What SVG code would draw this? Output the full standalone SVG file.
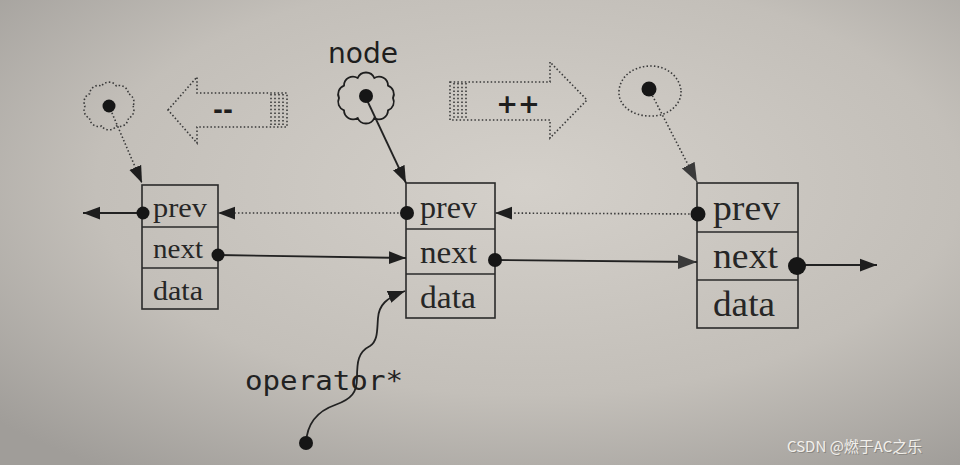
<svg xmlns="http://www.w3.org/2000/svg" width="960" height="465" viewBox="0 0 960 465">
<defs>
<radialGradient id="bg" cx="0.55" cy="0.4" r="0.75">
<stop offset="0" stop-color="#d4d0ca"/>
<stop offset="0.6" stop-color="#c3bfb9"/>
<stop offset="1" stop-color="#a09d99"/>
</radialGradient>
<marker id="ah" viewBox="0 0 16 12" refX="16" refY="6" markerWidth="17" markerHeight="14" markerUnits="userSpaceOnUse" orient="auto">
<path d="M0,0 L16,6 L0,12 z" fill="#1e1e1e"/>
</marker>
<marker id="ahg" viewBox="0 0 16 12" refX="16" refY="6" markerWidth="19" markerHeight="15" markerUnits="userSpaceOnUse" orient="auto">
<path d="M0,0 L16,6 L0,12 z" fill="#3a3a3a"/>
</marker>
</defs>
<style>
.box{fill:none;stroke:#2a2a2a;stroke-width:1.6}
.fld{font-family:"Liberation Serif","Times New Roman",serif;fill:#262626}
.solid{fill:none;stroke:#222;stroke-width:1.8}
.dot{fill:none;stroke:#3a3a3a;stroke-width:1.6;stroke-dasharray:1.5 2.2}
.pin{fill:#161616}
.sans{font-family:"DejaVu Sans","Liberation Sans",sans-serif;fill:#1e1e1e}
.mono{font-family:"DejaVu Sans Mono","Liberation Mono",monospace;fill:#222}
</style>
<rect width="960" height="465" fill="url(#bg)"/>

<g id="cloud-left">
<path class="dot" d="M133,106 A9,9 0 0 1 128.4,118.3 A9,9 0 0 1 116.4,126 A9,9 0 0 1 101.6,126 A9,9 0 0 1 89.6,118.3 A9,9 0 0 1 85,106 A9,9 0 0 1 89.6,93.7 A9,9 0 0 1 101.6,86 A9,9 0 0 1 116.4,86 A9,9 0 0 1 128.4,93.7 A9,9 0 0 1 133,106 z"/>
</g>

<g id="cloud-node">
<text class="sans" x="328" y="63" font-size="28" textLength="70" lengthAdjust="spacingAndGlyphs">node</text>
<path fill="none" stroke="#1e1e1e" stroke-width="1.8" d="M393,98 A9,9 0 0 1 388,110.3 A9,9 0 0 1 374.3,118 A9,9 0 0 1 357.7,118 A9,9 0 0 1 344,110.3 A9,9 0 0 1 339,98 A9,9 0 0 1 344,85.7 A9,9 0 0 1 357.7,78 A9,9 0 0 1 374.3,78 A9,9 0 0 1 388,85.7 A9,9 0 0 1 393,98 z"/>
</g>

<g id="cloud-right">
<path class="dot" d="M681,91 C682,104 668,117 650,116 C633,116 618,106 619,91 C620,76 634,66 651,66 C667,66 680,77 681,91 z"/>
</g>

<g id="arrow-dec">
<polygon class="dot" points="168,110 197,77 197,93 287,93 287,127 197,127 197,143"/>
<g class="dot">
<line x1="271" y1="94" x2="271" y2="126"/>
<line x1="275" y1="94" x2="275" y2="126"/>
<line x1="279" y1="94" x2="279" y2="126"/>
<line x1="283" y1="94" x2="283" y2="126"/>
</g>
<text class="sans" x="223" y="118" font-size="24" font-weight="bold" text-anchor="middle">--</text>
</g>

<g id="arrow-inc">
<polygon class="dot" points="450,82 550,82 550,62 587,100 550,138 550,120 450,120"/>
<g class="dot">
<line x1="454" y1="83" x2="454" y2="119"/>
<line x1="458" y1="83" x2="458" y2="119"/>
<line x1="462" y1="83" x2="462" y2="119"/>
<line x1="466" y1="83" x2="466" y2="119"/>
</g>
<text class="sans" x="518" y="113" font-size="26" font-weight="bold" text-anchor="middle">++</text>
</g>

<g id="node-left">
<rect class="box" x="142" y="185" width="76" height="124"/>
<line class="box" x1="142" y1="227" x2="218" y2="227"/>
<line class="box" x1="142" y1="268" x2="218" y2="268"/>
<text class="fld" x="153" y="217" font-size="28" textLength="54" lengthAdjust="spacingAndGlyphs">prev</text>
<text class="fld" x="153" y="258" font-size="28" textLength="50" lengthAdjust="spacingAndGlyphs">next</text>
<text class="fld" x="153" y="300" font-size="28" textLength="50" lengthAdjust="spacingAndGlyphs">data</text>
</g>

<g id="node-mid">
<rect class="box" x="406" y="183" width="89" height="135"/>
<line class="box" x1="406" y1="229" x2="495" y2="229"/>
<line class="box" x1="406" y1="274" x2="495" y2="274"/>
<text class="fld" x="420" y="218" font-size="31" textLength="57" lengthAdjust="spacingAndGlyphs">prev</text>
<text class="fld" x="420" y="263" font-size="31" textLength="57" lengthAdjust="spacingAndGlyphs">next</text>
<text class="fld" x="420" y="308" font-size="31" textLength="56" lengthAdjust="spacingAndGlyphs">data</text>
</g>

<g id="node-right">
<rect class="box" x="697" y="183" width="101" height="145"/>
<line class="box" x1="697" y1="232" x2="798" y2="232"/>
<line class="box" x1="697" y1="280" x2="798" y2="280"/>
<text class="fld" x="713" y="220" font-size="35" textLength="67" lengthAdjust="spacingAndGlyphs">prev</text>
<text class="fld" x="713" y="268" font-size="35" textLength="65" lengthAdjust="spacingAndGlyphs">next</text>
<text class="fld" x="713" y="316" font-size="35" textLength="62" lengthAdjust="spacingAndGlyphs">data</text>
</g>

<g id="label-operator">
<text class="mono" x="245" y="390" font-size="26" textLength="158" lengthAdjust="spacingAndGlyphs">operator*</text>
</g>

<g id="connectors">
<line class="solid" x1="143" y1="213" x2="83" y2="213" stroke-width="1.4" marker-end="url(#ah)"/>
<line class="solid" x1="218" y1="255" x2="406" y2="258" marker-end="url(#ah)"/>
<line class="dot" x1="406" y1="213" x2="218" y2="213" marker-end="url(#ah)"/>
<line class="solid" x1="495" y1="260" x2="697" y2="262" stroke-width="1.5" marker-end="url(#ahg)"/>
<line class="dot" x1="697" y1="214" x2="495" y2="213" marker-end="url(#ah)"/>
<line class="solid" x1="798" y1="265" x2="877" y2="265" stroke-width="2.2" marker-end="url(#ah)"/>
<line class="dot" x1="109" y1="106" x2="142" y2="183" marker-end="url(#ah)"/>
<line class="solid" x1="366" y1="98" x2="406" y2="183" marker-end="url(#ah)"/>
<line class="dot" x1="649" y1="89" x2="697" y2="182" marker-end="url(#ahg)"/>
<path class="solid" stroke-width="1.6" d="M306,443 C307,425 315,412 335,405 C352,399 357,392 357,378 C357,362 358,352 370,346 C378,341 377,330 378,318 C379,305 386,298 405,291" marker-end="url(#ah)"/>
<circle class="pin" cx="109" cy="106" r="6.5"/>
<circle class="pin" cx="366" cy="96" r="7"/>
<circle class="pin" cx="649" cy="89" r="7.5" fill="#242424"/>
<circle class="pin" cx="143" cy="213" r="6.5"/>
<circle class="pin" cx="218" cy="255" r="6.5"/>
<circle class="pin" cx="407" cy="213" r="7"/>
<circle class="pin" cx="495" cy="260" r="7"/>
<circle class="pin" cx="698" cy="214" r="7.5" fill="#2e2e2e"/>
<circle class="pin" cx="797" cy="266" r="9"/>
<circle class="pin" cx="306" cy="443" r="7"/>
</g>

<text x="787" y="452" font-family="'Noto Sans CJK SC','Noto Sans',sans-serif" font-size="15" fill="#8a8782" transform="translate(1,1)">CSDN @燃于AC之乐</text>
<text x="787" y="452" font-family="'Noto Sans CJK SC','Noto Sans',sans-serif" font-size="15" fill="#f2f0ec">CSDN @燃于AC之乐</text>
</svg>
